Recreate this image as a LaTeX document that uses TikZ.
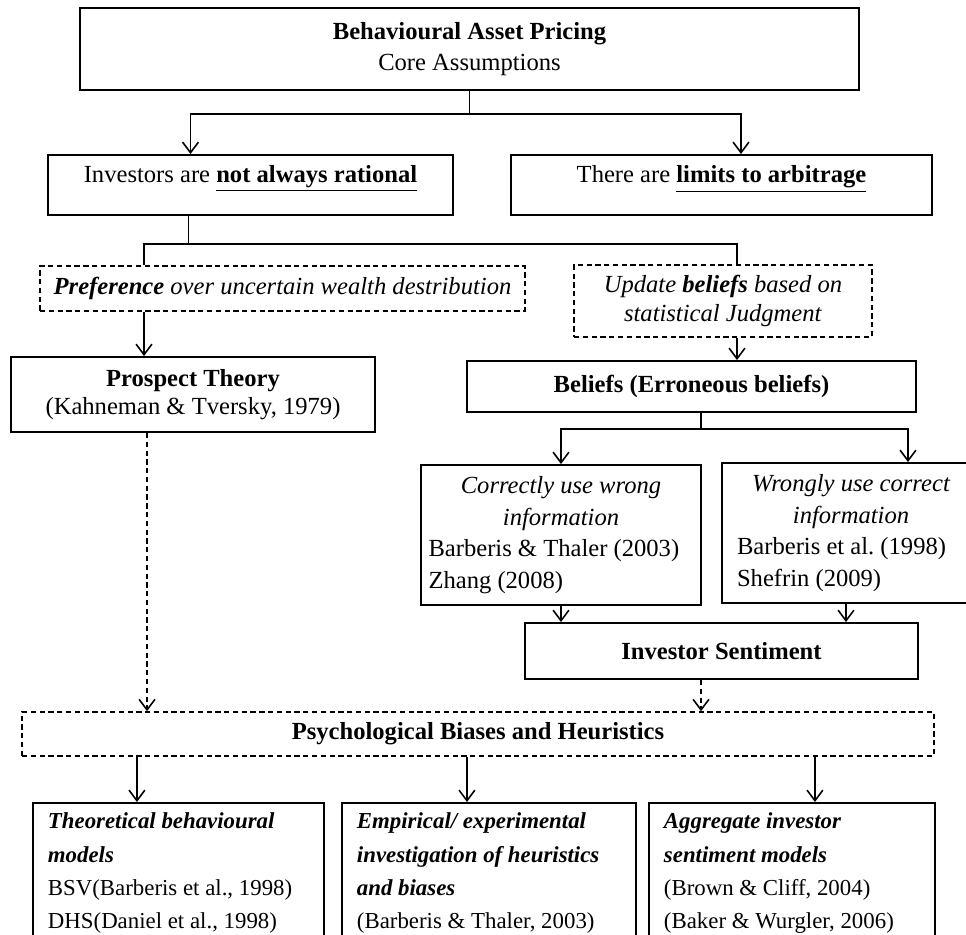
\documentclass[tikz,border=0pt]{standalone}
\usepackage{fontspec}
\setmainfont{Liberation Serif}
\usetikzlibrary{calc,arrows.meta}
\tikzset{%
    box/.style={draw, line width=1.1pt, align=center,
        font=\fontsize{14}{18}\selectfont},
    dashbox/.style={box, line width=0.9pt, dash pattern=on 3pt off 2pt},
    model/.style={box, anchor=north west, align=flush left, inner xsep=0.3cm,
        inner ysep=0.2cm, text depth=3.5cm, font=\fontsize{13}{19}\selectfont},
    link/.style={line width=0.9pt},
    dlink/.style={link, dash pattern=on 3pt off 2pt}
}

\begin{document}
\begin{tikzpicture}[x=0.02cm, y=-0.02cm, >={Straight Barb[length=6pt,width=9pt]}]
\clip (0,0) rectangle (966,935);
% core assumptions
\node [box, minimum width=15.58cm, minimum height=1.64cm] (core) at (469.5,49)
    {\textbf{Behavioural Asset Pricing}\\ Core Assumptions};
\node [box, text depth=12pt, minimum width=8.1cm, minimum height=1.2cm] (irr) at (250.5,185)
    {Investors are \textbf{\underline{not always rational}}};
\node [box, text depth=12pt, minimum width=8.42cm, minimum height=1.2cm] (lim) at (721.5,185)
    {There are \textbf{\underline{limits to arbitrage}}};
% preferences and beliefs
\node [dashbox, minimum width=9.7cm, minimum height=0.9cm] (pref) at (282.5,288.5)
    {\textit{\textbf{Preference} over uncertain wealth destribution}};
\node [dashbox, minimum width=5.96cm, minimum height=1.44cm] (upd) at (723,301)
    {\textit{Update \textbf{beliefs} based on}\\[-2pt] \textit{statistical Judgment}};
\node [box, minimum width=7.28cm, minimum height=1.5cm] (pros) at (193,394.5)
    {\textbf{Prospect Theory}\\[-2pt] (Kahneman \& Tversky, 1979)};
\node [box, minimum width=8.98cm, minimum height=1.02cm] (bel) at (691.5,386.5)
    {\textbf{Beliefs (Erroneous beliefs)}};
\node [box, align=flush left, text width=5.3cm, inner xsep=0.15cm, minimum height=2.8cm] (cor) at (561,535)
    {{\centering\itshape Correctly use wrong\\ information\par}
     Barberis \& Thaler (2003)\\ Zhang (2008)};
\node [box, align=flush left, text width=4.56cm, inner xsep=0.3cm, minimum height=2.8cm] (wro) at (851,533)
    {{\centering\itshape Wrongly use correct\\ information\par}
     Barberis et al.\ (1998)\\ Shefrin (2009)};
\node [box, minimum width=7.86cm, minimum height=1.12cm] (sent) at (721.5,651)
    {\textbf{Investor Sentiment}};
% biases and the three strands
\node [dashbox, minimum width=18.24cm, minimum height=0.88cm] (psy) at (478,734)
    {\textbf{Psychological Biases and Heuristics}};
\node [model, text width=5.22cm] (thm) at (32,802)
    {\textbf{\textit{Theoretical behavioural\\ models}}\\ BSV(Barberis et al., 1998)\\ DHS(Daniel et al., 1998)};
\node [model, text width=5.28cm] (emp) at (341,802)
    {\textbf{\textit{Empirical/ experimental\\ investigation of heuristics\\ and biases}}\\ (Barberis \& Thaler, 2003)};
\node [model, text width=5.12cm] (agg) at (648,802)
    {\textbf{\textit{Aggregate investor\\ sentiment models}}\\ (Brown \& Cliff, 2004)\\ (Baker \& Wurgler, 2006)};

% connectors
\draw [link, ->] (core.south) -- ++(0,23) coordinate (fork1) -| ($(irr.north)+(-60,0)$);
\draw [link, ->] (fork1) -| ($(lim.north)+(19.5,0)$);
\draw [link] ($(irr.south)+(-62,0)$) -- ++(0,28) coordinate (fork2) -| ($(pref.north)+(-138.5,0)$);
\draw [link] (fork2) -| ($(upd.north)+(14,0)$);
\draw [link, ->] ($(pref.south)+(-138.5,0)$) coordinate (p1) -- (p1 |- pros.north);
\draw [link, ->] ($(upd.south)+(14,0)$) coordinate (p2) -- (p2 |- bel.north);
\draw [link, ->] ($(bel.south)+(9.5,0)$) -- ++(0,16) coordinate (fork3) -| (cor.north);
\draw [link, ->] (fork3) -| ($(wro.north)+(57,0)$);
\draw [link, ->] (cor.south) -- (cor.south |- sent.north);
\draw [link, ->] ($(wro.south)+(-5,0)$) coordinate (p3) -- (p3 |- sent.north);
\draw [dlink, ->] ($(pros.south)+(-46,0)$) coordinate (p4) -- (p4 |- psy.north);
\draw [dlink, ->] ($(sent.south)+(-20.5,0)$) coordinate (p5) -- (p5 |- psy.north);
\foreach \n/\dx in {thm/-41.5, emp/-22, agg/23}{
    \path ($(\n.north)+(\dx,0)$) coordinate (q);
    \draw [link, ->] (psy.south -| q) -- (q);
}
\end{tikzpicture}
\end{document}
